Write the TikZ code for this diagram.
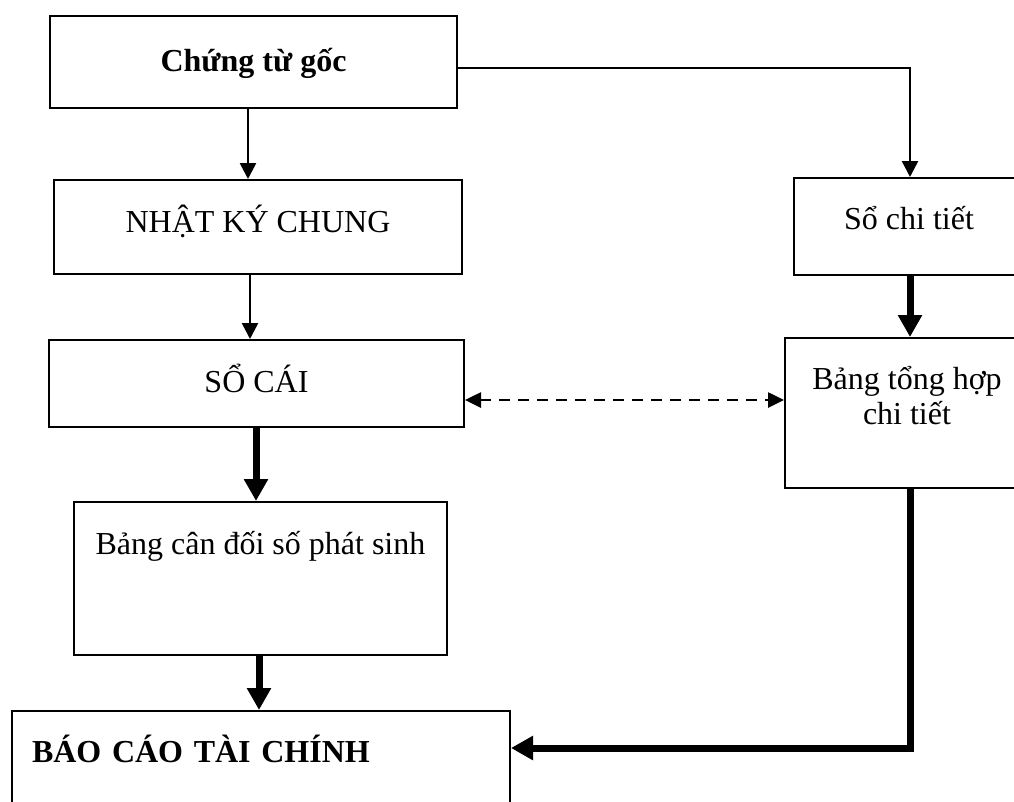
\documentclass[tikz,border=0pt]{standalone}
\usepackage{fontspec}
\setmainfont{Liberation Serif}
\usetikzlibrary{arrows.meta}
\begin{document}
\begin{tikzpicture}[x=1pt,y=-1pt,
  box/.style={draw, rectangle, line width=2pt, inner sep=0pt, anchor=north west,
    font=\fontsize{32}{35}\selectfont, text height=52pt},
  thinarrow/.style={line width=2.5pt, -{Triangle[length=16pt,width=16pt]}},
  thickarrow/.style={line width=7pt, -{Triangle[length=22pt,width=23pt]}},
  dasharrow/.style={line width=2.6pt, dash pattern=on 11pt off 8pt,
    {Triangle[length=16pt,width=15pt]}-{Triangle[length=16pt,width=15pt]}}]
\useasboundingbox (0,0) rectangle (1014,801);
\clip (0,0) rectangle (1014,801);

\node[box, minimum width=407pt, text height=55pt, text depth=37pt] (ctg) at (49,15) {\textbf{Chứng từ gốc}};
\node[box, minimum width=408pt, text depth=42pt] (nkc) at (53,179) {NHẬT KÝ CHUNG};
\node[box, minimum width=415pt, text depth=35pt] (sc) at (48,339) {SỔ CÁI};
\node[box, minimum width=373pt, text depth=101pt] (bcd) at (73,501) {Bảng cân đối số phát sinh};
\node[box, minimum width=230pt, text height=51pt, text depth=46pt] (sct) at (793,177) {Sổ chi tiết};
\node[box, minimum width=244pt, text height=51pt, text depth=99pt] (bth) at (784,337)
  {\begin{tabular}[t]{@{}c@{}}Bảng tổng hợp\\chi tiết\end{tabular}};
\node[box, text width=458pt, inner xsep=20pt, align=left, text height=51pt, text depth=59pt] (bctc) at (11,710) {\textbf{BÁO CÁO TÀI CHÍNH}};

\coordinate (xa) at (248,0);
\coordinate (xb) at (250,0);
\coordinate (xc) at (256,0);
\coordinate (xd) at (259,0);
\coordinate (xr) at (910,0);
\coordinate (yt) at (0,68);
\coordinate (yd) at (0,400);
\coordinate (yb) at (0,748);

\draw[thinarrow] (ctg.south -| xa) -- (nkc.north -| xa);
\draw[thinarrow] (nkc.south -| xb) -- (sc.north -| xb);
\draw[thickarrow] (sc.south -| xc) -- (bcd.north -| xc);
\draw[thickarrow] (bcd.south -| xd) -- (bctc.north -| xd);
\draw[thinarrow] (ctg.east |- yt) -| (sct.north -| xr);
\draw[thickarrow] (sct.south -| xr) -- (bth.north -| xr);
\draw[dasharrow] (sc.east |- yd) -- (bth.west |- yd);
\draw[thickarrow] (bth.south -| xr) |- (bctc.east |- yb);
\end{tikzpicture}
\end{document}
